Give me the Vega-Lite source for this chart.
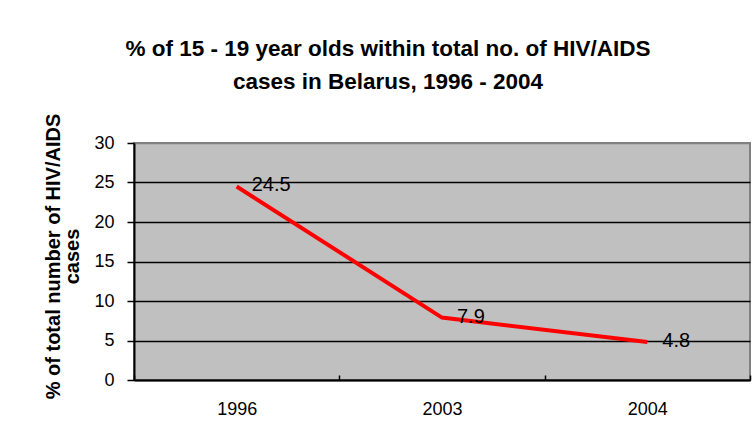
{
  "$schema": "https://vega.github.io/schema/vega-lite/v6.json",
  "width": 616,
  "height": 237,
  "autosize": "none",
  "padding": {"left": 134, "top": 143, "right": 4, "bottom": 59},
  "background": "white",
  "config": {
    "font": "Liberation Sans",
    "view": {"fill": "#C0C0C0", "stroke": "#808080", "strokeWidth": 2}
  },
  "title": {
    "text": ["% of 15 - 19 year olds within total no. of HIV/AIDS", "cases in Belarus, 1996 - 2004"],
    "font": "Liberation Sans",
    "fontSize": 22.5,
    "fontWeight": "bold",
    "color": "black",
    "lineHeight": 33,
    "anchor": "middle",
    "frame": "group",
    "dx": -54,
    "offset": 20
  },
  "data": {
    "values": [
      {"year": "1996", "pct": 24.5},
      {"year": "2003", "pct": 7.9},
      {"year": "2004", "pct": 4.8}
    ]
  },
  "encoding": {
    "x": {
      "field": "year",
      "type": "ordinal",
      "bandPosition": 0.5,
      "scale": {"type": "band", "paddingInner": 0, "paddingOuter": 0},
      "axis": {
        "title": null,
        "labelAngle": 0,
        "labelFontSize": 18,
        "labelColor": "black",
        "labelFont": "Liberation Sans",
        "tickBand": "extent",
        "tickSize": -5,
        "tickColor": "black",
        "tickWidth": 1.5,
        "labelPadding": 25,
        "domainColor": "black",
        "domainWidth": 2,
        "grid": false
      }
    },
    "y": {
      "field": "pct",
      "type": "quantitative",
      "scale": {"domain": [0, 30], "nice": false},
      "axis": {
        "values": [0, 5, 10, 15, 20, 25, 30],
        "title": ["% of total number of HIV/AIDS", "cases"],
        "titleFont": "Liberation Sans",
        "titleFontSize": 20,
        "titleFontWeight": "bold",
        "titleColor": "black",
        "titleAngle": -90,
        "titleAlign": "center",
        "titleBaseline": "alphabetic",
        "titleLineHeight": 19,
        "titleX": -75,
        "titleY": 113,
        "labelFontSize": 18,
        "labelColor": "black",
        "labelFont": "Liberation Sans",
        "labelPadding": 13,
        "tickSize": 7,
        "tickColor": "black",
        "tickWidth": 1.5,
        "domainColor": "black",
        "domainWidth": 2,
        "grid": true,
        "gridColor": {"condition": {"test": "datum.value === 30", "value": "#808080"}, "value": "black"},
        "gridWidth": 1.5,
        "gridOpacity": 1
      }
    }
  },
  "layer": [
    {"mark": {"type": "line", "color": "#FF0000", "strokeWidth": 4}},
    {
      "mark": {"type": "text", "align": "left", "baseline": "middle", "dx": 15, "dy": -1, "fontSize": 20, "color": "black", "font": "Liberation Sans"},
      "encoding": {"text": {"field": "pct", "type": "quantitative", "format": ".1f"}}
    }
  ]
}
